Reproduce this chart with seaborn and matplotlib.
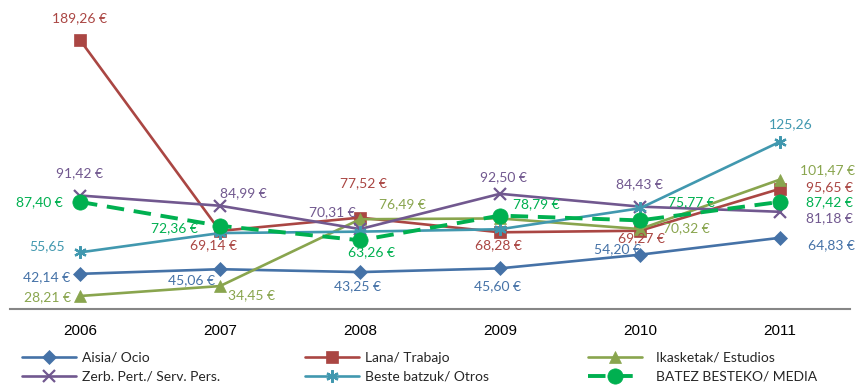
import matplotlib
matplotlib.use("Agg")
import matplotlib.pyplot as plt
import numpy as np
import pandas as pd
import seaborn as sns

# Average spending per category and year (EUR)
years = ["2006", "2007", "2008", "2009", "2010", "2011"]
aisia = [42.14, 45.06, 43.25, 45.60, 54.20, 64.83]
lana = [189.26, 69.14, 77.52, 68.28, 69.27, 95.65]
ikasketak = [28.21, 34.45, 76.49, 77.0, 70.32, 101.47]
zerb = [91.42, 84.99, 70.31, 92.50, 84.43, 81.18]
beste = [55.65, 67.8, 68.7, 70.2, 83.4, 125.26]
media = [87.40, 72.36, 63.26, 78.79, 75.77, 87.42]

series_names = [
    "Aisia/ Ocio",
    "Lana/ Trabajo",
    "Ikasketak/ Estudios",
    "Zerb. Pert./ Serv. Pers.",
    "Beste batzuk/ Otros",
    "BATEZ BESTEKO/ MEDIA",
]
series_values = [aisia, lana, ikasketak, zerb, beste, media]

# which points carry a value label, and whether the label shows the euro sign
labelled = [
    [1, 1, 1, 1, 1, 1],
    [1, 1, 1, 1, 1, 1],
    [1, 1, 1, 0, 1, 1],
    [1, 1, 1, 1, 1, 1],
    [1, 0, 0, 0, 0, 1],
    [1, 1, 1, 1, 1, 1],
]
with_euro = [True, True, True, True, False, True]

# ---- styling ----
colors = ["#4572A7", "#AA4643", "#89A54E", "#71588F", "#4198AF", "#00B050"]
markers = ["D", "s", "^", "x", (6, 2, 0), "o"]
msizes = [7, 8, 8.5, 8, 9, 11]
lwidths = [1.9, 1.9, 1.9, 1.9, 1.9, 2.8]
lstyles = ["-", "-", "-", "-", "-", (0, (4.5, 2.5))]

# label offsets from each point, in pixels (right, down)
label_offsets = [
    [(-33, 3), (-28, 11), (-3, 14), (-3, 18), (-23, -6), (51, 7)],
    [(0, -22), (-7, 14), (3, -34), (-2, 13), (1, 7), (49, -2)],
    [(-33, 1), (32, 9), (42, -15), (0, 0), (46, -1), (47, -9)],
    [(0, -22), (23, -13), (-28, -17), (3, -17), (-1, -22), (49, 6)],
    [(-33, -6), (0, 0), (0, 0), (0, 0), (0, 0), (11, -18)],
    [(-41, 0), (-46, 2), (12, 12), (36, -11), (51, -18), (49, 0)],
]

sns.set_style("white")
plt.rcParams["font.family"] = ["Lato", "DejaVu Sans"]

W, H = 863, 387
fig = plt.figure(figsize=(W / 100, H / 100), dpi=100)
ax = fig.add_axes([10 / W, (H - 309) / H, 840 / W, 304 / H])

x_pos = np.arange(len(years))
frames = []
for name, vals in zip(series_names, series_values):
    frames.append(pd.DataFrame({"pos": x_pos, "value": vals, "serie": name}))
df = pd.concat(frames, ignore_index=True)

handles = []
for i, name in enumerate(series_names):
    sub = df[df["serie"] == name]
    sns.lineplot(
        data=sub, x="pos", y="value", ax=ax, sort=False,
        color=colors[i], marker=markers[i], markersize=msizes[i],
        markeredgecolor=colors[i], markeredgewidth=1.6 if markers[i] in ("x",) or isinstance(markers[i], tuple) else 0.5,
        linewidth=lwidths[i], linestyle=lstyles[i], zorder=3 + i,
        dashes=False if i < 5 else None, legend=False,
    )
    line = ax.get_lines()[-1]
    if i == 5:
        line.set_linestyle(lstyles[i])
    handles.append(line)

    for j, v in enumerate(series_values[i]):
        if not labelled[i][j]:
            continue
        txt = f"{v:.2f}".replace(".", ",")
        if with_euro[i]:
            txt += " €"
        dx, dy = label_offsets[i][j]
        ax.annotate(txt, (x_pos[j], v), xytext=(dx, -dy), textcoords="offset pixels",
                    ha="center", va="center", fontsize=10, color=colors[i], zorder=20)

ax.set_xlim(-0.5, 5.5)
ax.set_ylim(20.03, 211.27)
ax.set_xlabel("")
ax.set_ylabel("")
ax.set_yticks([])
ax.set_xticks(x_pos)
ax.set_xticklabels(years, fontsize=11, family=["Liberation Sans"], color="black")
ax.tick_params(axis="x", which="major", length=0, pad=11)
ax.set_xticks(np.arange(-0.5, 6, 1), minor=True)
ax.tick_params(axis="x", which="minor", length=5, width=1.2, color="#868686", direction="out")
for s in ["top", "left", "right"]:
    ax.spines[s].set_visible(False)
ax.spines["bottom"].set_color("#868686")
ax.spines["bottom"].set_linewidth(1.5)

# legend laid out as three columns of two entries
col_x = [22, 305, 588]
col_pad = [0.45, 0.45, 1.0]
for c in range(3):
    hs = [handles[c], handles[c + 3]]
    ls = [series_names[c], series_names[c + 3]]
    fig.legend(hs, ls, loc="center left", bbox_to_anchor=(col_x[c] / W, (H - 367) / H),
               frameon=False, fontsize=10, handlelength=3.9, handletextpad=col_pad[c],
               borderpad=0, borderaxespad=0, labelspacing=0.5, numpoints=1)

fig.savefig("out.png", dpi=100)
